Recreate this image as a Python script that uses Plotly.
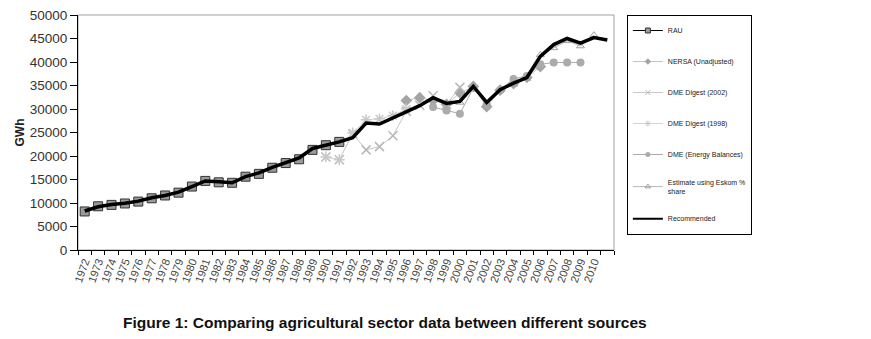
import plotly.graph_objects as go

years = [str(y) for y in range(1972, 2012)]
tick_labels = [str(y) for y in range(1972, 2011)] + [""]

rau_years = [str(y) for y in range(1972, 1992)]
rau = [8200, 9300, 9600, 9900, 10300, 11000, 11600, 12200, 13500, 14700,
       14400, 14300, 15600, 16200, 17500, 18500, 19300, 21300, 22300, 23000]

nersa_years = [str(y) for y in range(1996, 2007)]
nersa = [31800, 32400, 31800, 31000, 33400, 34800, 30500, 34000, 35400, 36700, 39000]

dme2002_years = [str(y) for y in range(1990, 2001)]
dme2002 = [19800, 19200, 24700, 21300, 22000, 24300, 29500, 30800, 32800, 31000, 34600]

dme1998_years = [str(y) for y in range(1990, 1997)]
dme1998 = [19800, 19200, 24900, 27700, 27900, 28600, 30000]

dmeeb_years = [str(y) for y in range(1998, 2010)]
dmeeb = [30400, 29700, 29000, 34500, 31000, 34000, 36400, 37000, 39500, 39900, 39900, 39900]

est_years = [str(y) for y in range(1999, 2011)]
est = [31200, 31400, 34800, 31000, 34000, 35200, 36500, 41500, 43000, 44500, 43400, 45700]

recommended = [8300, 9200, 9700, 9950, 10400, 11100, 11600, 12300, 13500, 14700,
               14500, 14300, 15600, 16400, 17600, 18600, 19600, 21600, 22300, 23000,
               23900, 27000, 26800, 28100, 29500, 30700, 32400, 31200, 31600, 34800,
               31400, 34100, 35500, 36700, 41200, 43700, 45000, 44000, 45200, 44700]

y_ticks = list(range(0, 50001, 5000))
y_tick_text = [str(v) for v in y_ticks]

fig = go.Figure()

def add(name, x, y, color, lcolor, symbol, size, lw=1, mline=None, lsize=5):
    mline = mline or dict(width=0)
    fig.add_trace(go.Scatter(
        x=x, y=y, name=name, mode="lines+markers" if symbol else "lines",
        line=dict(color=lcolor, width=lw),
        marker=dict(symbol=symbol or "circle", size=size, color=color, line=mline),
        legendgroup=name, showlegend=False,
    ))
    # legend entry drawn with small Excel-like markers
    lm = dict(mline)
    if "width" in lm and lm["width"] > 1:
        lm["width"] = 1
    fig.add_trace(go.Scatter(
        x=[None], y=[None], name=name, mode="lines+markers" if symbol else "lines",
        line=dict(color=lcolor, width=lw if lw < 2 else 2),
        marker=dict(symbol=symbol or "circle", size=lsize, color=color, line=lm),
        legendgroup=name, showlegend=True,
    ))

add("RAU", rau_years, rau, "#9a9a9a", "#000000", "square", 9,
    mline=dict(color="#333333", width=1))
add("NERSA (Unadjusted)", nersa_years, nersa, "#a4a4a4", "#c4c4c4", "diamond", 9)
add("DME Digest (2002)", dme2002_years, dme2002, "#b8b8b8", "#c8c8c8", "x-thin", 9,
    mline=dict(color="#b8b8b8", width=1.5))
add("DME Digest (1998)", dme1998_years, dme1998, "#cccccc", "#d4d4d4", "asterisk", 9,
    mline=dict(color="#c8c8c8", width=1.5))
add("DME (Energy Balances)", dmeeb_years, dmeeb, "#ababab", "#ababab", "circle", 8)
add("Estimate using Eskom %<br>share", est_years, est, "#a0a0a0", "#b8b8b8",
    "triangle-up-open", 7, mline=dict(color="#a0a0a0", width=1))
add("Recommended", years, recommended, "#000000", "#000000", None, 0, lw=3.5)

fig.update_layout(
    width=871, height=339,
    margin=dict(l=70, r=265, t=7, b=97, autoexpand=False),
    paper_bgcolor="white", plot_bgcolor="white",
    font=dict(family="Arial, Liberation Sans, sans-serif", color="#222222"),
    showlegend=True,
    legend=dict(
        x=1.024, y=1.0, xanchor="left", yanchor="top",
        bordercolor="#000000", borderwidth=1,
        font=dict(size=7, color="#222222"),
        tracegroupgap=12, entrywidth=122, entrywidthmode="pixels",
    ),
    xaxis=dict(
        type="category", categoryorder="array", categoryarray=years,
        tickmode="array", tickvals=years, ticktext=tick_labels,
        tickson="boundaries", ticks="outside", ticklen=4, tickcolor="#000",
        tickangle=-70, tickfont=dict(size=11, color="#444444"),
        showline=True, linecolor="#000000", linewidth=1,
        showgrid=False, range=[-0.5, 39.5], automargin=False,
    ),
    yaxis=dict(
        range=[0, 50000], tickmode="array", tickvals=y_ticks, ticktext=y_tick_text,
        ticks="outside", ticklen=7, tickcolor="#000", ticksuffix="\u00a0\u00a0",
        tickfont=dict(size=13.5, color="#333333"), ticklabeloverflow="allow",
        showline=True, linecolor="#000000", linewidth=1,
        showgrid=False, zeroline=False, automargin=False,
        title=dict(text="<b>GWh</b>", font=dict(size=12, color="#222222"), standoff=2),
    ),
    shapes=[dict(type="rect", xref="paper", yref="paper", x0=0, x1=1, y0=0, y1=1,
                 line=dict(color="#a0a0a0", width=1), layer="below")],
    annotations=[dict(
        text="<b>Figure 1: Comparing agricultural sector data between different sources</b>",
        xref="paper", yref="paper", x=0.573, y=-0.31, xanchor="center", yanchor="middle",
        showarrow=False, font=dict(size=15.5, color="#111111"),
    )],
)

fig.write_html("out.html")
